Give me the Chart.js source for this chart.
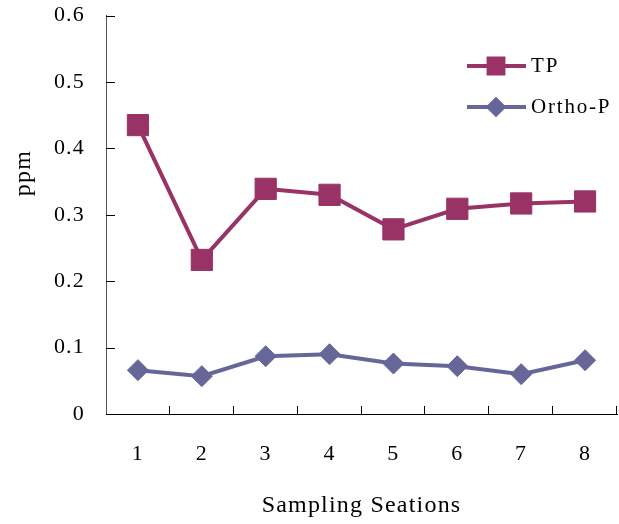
<!DOCTYPE html>
<html lang="en">
<head>
    <meta charset="UTF-8">
    <script src="https://cdn.jsdelivr.net/npm/chart.js@4.4.0/dist/chart.umd.min.js"></script>
    <title>TP and Ortho-P</title>
    <style>
        html, body { margin: 0; padding: 0; background: #fff; }
        #myChart { display: block; }
    </style>
</head>
<body>
    <canvas id="myChart" width="619" height="524"></canvas>

    <script>
        // data
        var stations = ['1', '2', '3', '4', '5', '6', '7', '8'];
        var tpValues = [0.435, 0.232, 0.339, 0.330, 0.278, 0.309, 0.317, 0.320];
        var orthoValues = [0.066, 0.057, 0.087, 0.090, 0.076, 0.072, 0.060, 0.081];
        var yTicks = [0, 0.1, 0.2, 0.3, 0.4, 0.5, 0.6];

        var serif = "'Liberation Serif', 'Times New Roman', serif";

        // inward tick marks, y title and legend box drawn on top
        var extras = {
            id: 'extras',
            beforeDraw: function (chart) {
                chart.ctx.letterSpacing = '1.2px';
            },
            afterDraw: function (chart) {
                var ctx = chart.ctx;
                var area = chart.chartArea;
                var x = chart.scales.x, y = chart.scales.y;
                ctx.save();
                ctx.strokeStyle = '#000';
                ctx.lineWidth = 1;
                ctx.beginPath();
                y.ticks.forEach(function (t) {
                    var py = Math.round(y.getPixelForValue(t.value)) + 0.5;
                    ctx.moveTo(area.left, py);
                    ctx.lineTo(area.left + 9, py);
                });
                for (var i = 1; i <= stations.length; i++) {
                    var px = Math.round(x.getPixelForValue(i - 0.5)) - 0.5;
                    ctx.moveTo(px, area.bottom);
                    ctx.lineTo(px, area.bottom - 8);
                }
                ctx.stroke();

                // y axis title
                ctx.fillStyle = '#000';
                ctx.font = '24px ' + serif;
                ctx.letterSpacing = '1.2px';
                ctx.textAlign = 'center';
                ctx.textBaseline = 'middle';
                ctx.translate(24, 173);
                ctx.rotate(-Math.PI / 2);
                ctx.fillText('ppm', 0, 0);
                ctx.restore();

                // legend
                ctx.save();
                var rows = [66, 107];
                chart.data.datasets.forEach(function (ds, k) {
                    var ly = rows[k];
                    ctx.strokeStyle = ds.borderColor;
                    ctx.lineWidth = 4;
                    ctx.beginPath();
                    ctx.moveTo(467, ly);
                    ctx.lineTo(526, ly);
                    ctx.stroke();
                    ctx.fillStyle = ds.borderColor;
                    Chart.helpers.drawPoint(ctx, {
                        pointStyle: ds.pointStyle,
                        rotation: 0,
                        radius: ds.pointStyle === 'rect' ? 10.5 : 7.5,
                        borderWidth: 1
                    }, 496, ly);
                    ctx.fillStyle = '#000';
                    ctx.font = '21px ' + serif;
                    ctx.letterSpacing = '1.8px';
                    ctx.textAlign = 'left';
                    ctx.textBaseline = 'middle';
                    ctx.fillText(ds.label, 531, ly);
                });
                ctx.restore();
            }
        };

        var ctx = document.getElementById('myChart').getContext('2d');

        var myChart = new Chart(ctx, {
            type: 'line',
            data: {
                labels: stations,
                datasets: [{
                    label: 'TP',
                    data: tpValues,
                    borderColor: '#993366',
                    backgroundColor: '#993366',
                    borderWidth: 4,
                    pointStyle: 'rect',
                    pointRadius: 15,
                    pointBorderWidth: 1,
                    pointBackgroundColor: '#993366',
                    pointBorderColor: '#993366'
                }, {
                    label: 'Ortho-P',
                    data: orthoValues,
                    borderColor: '#666699',
                    backgroundColor: '#666699',
                    borderWidth: 4,
                    pointStyle: 'rectRot',
                    pointRadius: 10.5,
                    pointBorderWidth: 1,
                    pointBackgroundColor: '#666699',
                    pointBorderColor: '#666699'
                }]
            },
            options: {
                responsive: false,
                animation: false,
                devicePixelRatio: 1,
                layout: { padding: 0, autoPadding: false },
                plugins: {
                    legend: { display: false },
                    tooltip: { enabled: false }
                },
                scales: {
                    x: {
                        offset: true,
                        grid: { display: false, drawTicks: false },
                        border: { display: true, color: '#000', width: 1 },
                        ticks: {
                            color: '#000',
                            padding: 27,
                            font: { family: serif, size: 22 }
                        },
                        title: {
                            display: true,
                            text: 'Sampling Seations',
                            color: '#000',
                            font: { family: serif, size: 24 },
                            padding: { top: 0, bottom: 4 }
                        },
                        afterFit: function (scale) {
                            scale.height = 110;
                            scale.paddingLeft = 0;
                            scale.paddingRight = 2;
                        }
                    },
                    y: {
                        min: 0,
                        max: 0.6,
                        grid: { display: false, drawTicks: false },
                        border: { display: true, color: '#555', width: 1 },
                        afterBuildTicks: function (scale) {
                            scale.ticks = yTicks.map(function (v) { return { value: v }; });
                        },
                        ticks: {
                            color: '#000',
                            padding: 21,
                            font: { family: serif, size: 22 },
                            callback: function (v) { return v === 0 ? '0' : v.toFixed(1); }
                        },
                        afterFit: function (scale) {
                            scale.width = 106;
                            scale.paddingTop = 15.5;
                            scale.paddingBottom = 0;
                        }
                    }
                }
            },
            plugins: [extras]
        });
    </script>
</body>
</html>
